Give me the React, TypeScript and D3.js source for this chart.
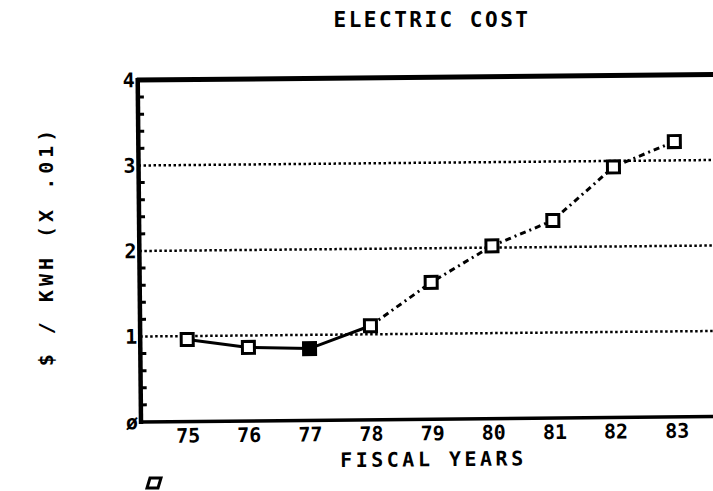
import React from "react";
import * as d3 from "d3";

const years = [75, 76, 77, 78, 79, 80, 81, 82, 83];
const costs = [0.96, 0.86, 0.84, 1.1, 1.6, 2.02, 2.31, 2.93, 3.22];
const yTicks = [0, 1, 2, 3, 4];
const yTickLabels = ["ø", "1", "2", "3", "4"];
const gridValues = [1, 2, 3];
const title = "ELECTRIC COST";
const xTitle = "FISCAL YEARS";
const yTitle = "$ / KWH (X .01)";

const W = 713;
const H = 491;
const FONT = "'DejaVu Sans Mono', 'Liberation Mono', monospace";

export default function App() {
  const left = 141;
  const right = W;
  const top = 80;
  const bottom = 422;
  const x = d3.scaleLinear().domain([75, 83]).range([188, 677]);
  const y = d3.scaleLinear().domain([0, 4]).range([bottom, top]);

  const minor = d3.range(0, 4.001, 0.2).filter((v) => Math.abs(v - Math.round(v)) > 0.01);
  const pts = years.map((yr, i) => [x(yr), y(costs[i])] as [number, number]);
  const line = d3.line();
  const solidPts = pts.slice(0, 4);
  const dashPts = pts.slice(3);
  const sq = 12;

  return (
    <svg width={W} height={H} style={{ position: "absolute", left: 0, top: 0, background: "#fff" }}>
      <text x={432} y={27} textAnchor="middle" fontFamily={FONT} fontWeight="bold" fontSize={21} letterSpacing={2.5} fill="#000">
        {title}
      </text>
      <text
        transform={`translate(53,246) rotate(-90)`}
        textAnchor="middle"
        fontFamily={FONT}
        fontWeight="bold"
        fontSize={20}
        letterSpacing={4}
        fill="#000"
      >
        {yTitle}
      </text>
      <g transform={`rotate(-0.55, ${left}, ${bottom})`}>
        {gridValues.map((v) => (
          <line key={v} x1={left} x2={right + 10} y1={y(v)} y2={y(v)} stroke="#000" strokeWidth={2.5} strokeDasharray="2.5,2.5" />
        ))}
        <line x1={left - 1} x2={right + 10} y1={top} y2={top} stroke="#000" strokeWidth={5} />
        <line x1={left} x2={right + 10} y1={bottom} y2={bottom} stroke="#000" strokeWidth={3.5} />
        <line x1={left} x2={left} y1={top - 2} y2={bottom + 2} stroke="#000" strokeWidth={4.5} />
        {minor.map((v) => (
          <line key={v} x1={left} x2={left + 6} y1={y(v)} y2={y(v)} stroke="#000" strokeWidth={3} />
        ))}
        {yTicks.map((v, i) => (
          <text key={v} x={left - 3} y={y(v) + 7} textAnchor="end" fontFamily={FONT} fontWeight="bold" fontSize={20} fill="#000">
            {yTickLabels[i]}
          </text>
        ))}
        {years.map((yr) => (
          <text key={yr} x={x(yr)} y={bottom + 21} textAnchor="middle" fontFamily={FONT} fontWeight="bold" fontSize={20} fill="#000">
            {String(yr)}
          </text>
        ))}
        <text x={433} y={bottom + 47} textAnchor="middle" fontFamily={FONT} fontWeight="bold" fontSize={20} letterSpacing={3.5} fill="#000">
          {xTitle}
        </text>
        <path d={line(solidPts) || ""} fill="none" stroke="#000" strokeWidth={3} />
        <path d={line(dashPts) || ""} fill="none" stroke="#000" strokeWidth={3} strokeDasharray="6,4,2,4" />
        {pts.map(([px, py], i) => (
          <rect
            key={i}
            x={px - sq / 2}
            y={py - sq / 2}
            width={sq}
            height={sq}
            fill={i === 2 ? "#000" : "#fff"}
            stroke="#000"
            strokeWidth={3}
          />
        ))}
      </g>
      <path d="M150,478 L161,478 L158,488 L147,488 Z" fill="none" stroke="#000" strokeWidth={3} />
    </svg>
  );
}
